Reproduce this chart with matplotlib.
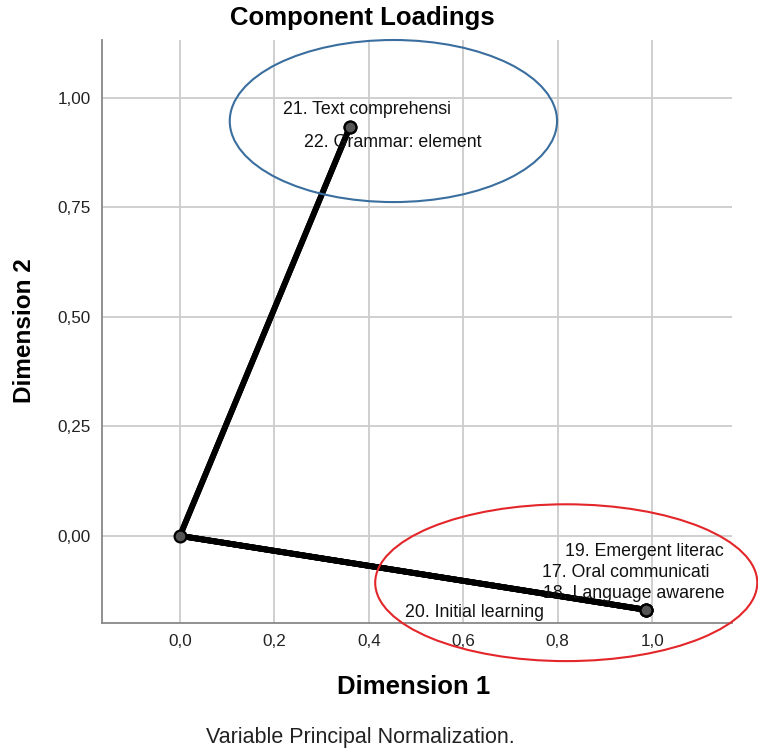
import matplotlib
matplotlib.use("Agg")
import matplotlib.pyplot as plt
from matplotlib.patches import Ellipse
from matplotlib.ticker import FuncFormatter

plt.rcParams["font.family"] = ["Liberation Sans", "DejaVu Sans"]

# component loadings
ITEMS = [
    "17. Oral communicati",
    "18. Language awarene",
    "19. Emergent literac",
    "20. Initial learning",
    "21. Text comprehensi",
    "22. Grammar: element",
]
DIM1 = [0.987, 0.987, 0.987, 0.987, 0.360, 0.360]
DIM2 = [-0.169, -0.169, -0.169, -0.169, 0.934, 0.934]

X_TICKS = [0.0, 0.2, 0.4, 0.6, 0.8, 1.0]
Y_TICKS = [0.0, 0.25, 0.5, 0.75, 1.0]

# label offsets in pixels from the point (SPSS-style label placement)
LABEL_OFFSETS = {
    "17. Oral communicati": (-104, 37),
    "18. Language awarene": (-103, 16),
    "19. Emergent literac": (-81, 58),
    "20. Initial learning": (-241, -3),
    "21. Text comprehensi": (-67, 17),
    "22. Grammar: element": (-46, -16),
}

W, H = 758, 749
fig = plt.figure(figsize=(W / 100, H / 100), dpi=100)
ax = fig.add_axes([102 / W, 1 - 623 / H, 630 / W, 583 / H])

ax.set_xlim(-0.165, 1.169)
ax.set_ylim(-0.199, 1.132)

ax.set_xticks(X_TICKS)
ax.set_yticks(Y_TICKS)
ax.xaxis.set_major_formatter(FuncFormatter(lambda v, p: f"{v:.1f}".replace(".", ",")))
ax.yaxis.set_major_formatter(FuncFormatter(lambda v, p: f"{v:.2f}".replace(".", ",")))
ax.tick_params(length=0, labelsize=12.3, colors="#222222")
ax.tick_params(axis="x", pad=8)
ax.tick_params(axis="y", pad=8)
ax.grid(True, color="#cccccc", linewidth=1.3)
ax.set_axisbelow(True)

for s in ["top", "right"]:
    ax.spines[s].set_visible(False)
for s in ["left", "bottom"]:
    ax.spines[s].set_color("#888888")
    ax.spines[s].set_linewidth(1.3)

for name, x, y in zip(ITEMS, DIM1, DIM2):
    ax.plot([0, x], [0, y], color="black", linewidth=4.2, solid_capstyle="round",
            zorder=3)
    ax.plot([x], [y], marker="o", markersize=8.5, markerfacecolor="#555555",
            markeredgecolor="black", markeredgewidth=1.6, zorder=4)
    dx, dy = LABEL_OFFSETS[name]
    ax.annotate(name, (x, y), xytext=(dx, dy), textcoords="offset pixels",
                ha="left", va="center", fontsize=12.8, color="#111111", zorder=5)

ax.plot([0], [0], marker="o", markersize=8.5, markerfacecolor="#555555",
        markeredgecolor="black", markeredgewidth=1.6, zorder=4)

# highlight ellipses
ax.add_patch(Ellipse((0.452, 0.947), 0.693, 0.370, fill=False,
                     edgecolor="#3a6e9e", linewidth=1.5, clip_on=False, zorder=6))
ax.add_patch(Ellipse((0.818, -0.107), 0.809, 0.358, fill=False,
                     edgecolor="#e3262a", linewidth=1.5, clip_on=False, zorder=6))

fig.text(362 / W, 1 - 18 / H, "Component Loadings", ha="center", va="center",
         fontsize=18.5, fontweight="bold")
fig.text(414 / W, 1 - 687 / H, "Dimension 1", ha="center", va="center",
         fontsize=18.5, fontweight="bold")
fig.text(25 / W, 1 - 331 / H, "Dimension 2", ha="center", va="center",
         fontsize=17.5, fontweight="bold", rotation=90)
fig.text(360 / W, 1 - 738 / H, "Variable Principal Normalization.", ha="center",
         va="center", fontsize=15.5, color="#222222")

fig.savefig("out.png", dpi=100)
